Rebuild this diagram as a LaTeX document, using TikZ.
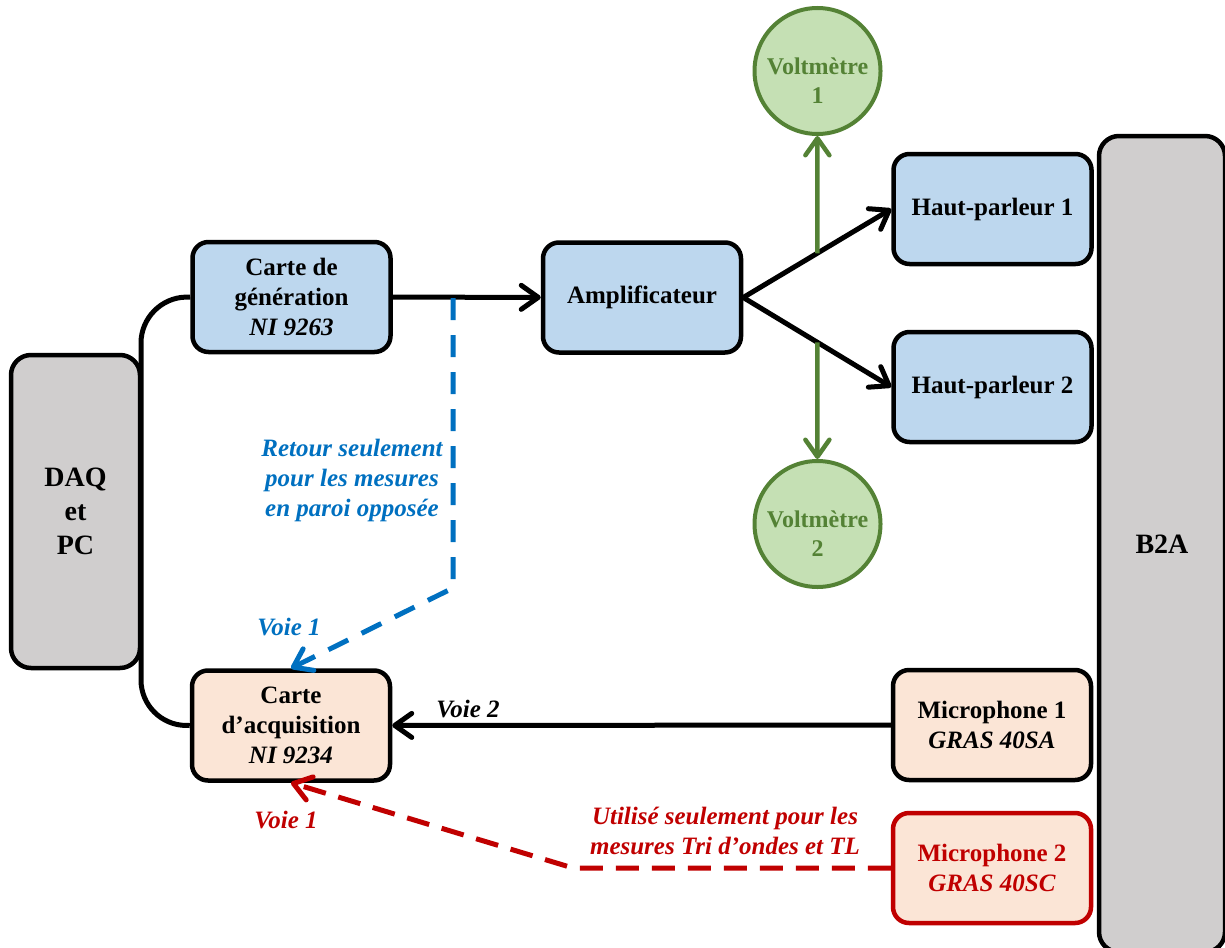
\documentclass[tikz,border=0pt]{standalone}
\usepackage{fontspec}
\setmainfont{Liberation Serif}
\usepackage{xcolor}
\usepackage{tikz}
\usetikzlibrary{arrows.meta,positioning,calc}

\definecolor{boxblue}{HTML}{BDD7EE}
\definecolor{boxpeach}{HTML}{FBE5D6}
\definecolor{boxgray}{HTML}{D0CECE}
\definecolor{voltfill}{HTML}{C5E0B4}
\definecolor{voltgreen}{HTML}{548235}
\definecolor{retblue}{HTML}{0070C0}
\definecolor{micred}{HTML}{C00000}

\begin{document}
\begin{tikzpicture}[x=1pt, y=-1pt,
    >={Straight Barb[length=17pt,width=24pt,round]},
    every node/.style={font=\fontsize{25}{30}\selectfont\bfseries, align=center},
    unit/.style={draw, line width=4.5pt, rounded corners=16pt, minimum width=198pt, minimum height=110pt, inner sep=2pt},
    rack/.style={draw, line width=4.5pt, rounded corners=20pt, fill=boxgray, font=\fontsize{28}{34}\selectfont\bfseries},
    volt/.style={circle, draw=voltgreen, line width=4pt, fill=voltfill, minimum size=126pt, inner sep=0pt},
    volttext/.style={text=voltgreen, font=\fontsize{24}{29}\selectfont\bfseries, yshift=-10pt},
    wire/.style={line width=5pt},
    note/.style={font=\fontsize{25}{30}\selectfont\bfseries\itshape}]
    \clip (0,0) rectangle (1225,947);

    % Racks on both sides
    \node[rack, minimum width=129pt, minimum height=313pt] (daq) at (75.5,511.5) {DAQ\\et\\PC};
    \node[rack, minimum width=126pt, minimum height=816pt] (b2a) at (1162,544) {B2A};

    % Generation chain (top)
    \node[unit, fill=boxblue] (gen) at (291.5,297) {Carte de\\génération\\\textit{NI 9263}};
    \node[unit, fill=boxblue] (amp) at (642,297.5) {Amplificateur};
    \node[unit, fill=boxblue] (hp1) at (992.5,209) {Haut-parleur 1};
    \node[unit, fill=boxblue] (hp2) at (992.5,387) {Haut-parleur 2};
    \node[volt, label={[volttext]center:Voltmètre\\1}] (volt1) at (817.5,71) {};
    \node[volt, label={[volttext]center:Voltmètre\\2}] (volt2) at (817.5,524) {};

    % Acquisition chain (bottom)
    \node[unit, fill=boxpeach] (acq) at (291,725.5) {Carte\\d’acquisition\\\textit{NI 9234}};
    \node[unit, fill=boxpeach] (mic1) at (992,725) {Microphone 1\\\textit{GRAS 40SA}};
    \node[unit, fill=boxpeach, draw=micred, text=micred] (mic2) at (992,868) {Microphone 2\\\textit{GRAS 40SC}};

    % Labels
    \node[note, text=retblue] (retour) at (352,480) {Retour seulement\\pour les mesures\\en paroi opposée};
    \node[note, text=retblue] (voieb) at (289,627) {Voie 1};
    \node[note] (voie2) at (468,709) {Voie 2};
    \node[note, text=micred] (voier) at (286,820) {Voie 1};
    \node[note, text=micred] (tri) at (725,831) {Utilisé seulement pour les\\mesures Tri d’ondes et TL};

    % Bends and taps
    \coordinate (g1) at ($(amp.east)!0.5!(hp1.west)$);
    \coordinate (g2) at ($(amp.east)!0.5!(hp2.west)$);
    \coordinate (tap) at (453,298);
    \coordinate (bend) at (453,588);
    \coordinate (rbend) at (573,868);

    % Black wires
    \draw[wire, rounded corners=45pt] (gen.west) -- (141,298) -- (141,725) -- (acq.west);
    \draw[wire, ->] (gen) -- (amp);
    \draw[wire, ->] (amp.east) -- (hp1.west);
    \draw[wire, ->] (amp.east) -- (hp2.west);
    \draw[wire, ->] (mic1) -- (acq);

    % Voltmeters
    \draw[wire, line width=4.5pt, voltgreen, ->] (g1) -- (volt1);
    \draw[wire, line width=4.5pt, voltgreen, ->] (g2) -- (volt2);

    % Dashed returns
    \draw[wire, retblue, dash pattern=on 22pt off 15pt, ->] (tap) -- (bend) -- (acq.north);
    \draw[wire, micred, dash pattern=on 23pt off 13pt, ->] (mic2.west) -- (rbend) -- (acq.south);
\end{tikzpicture}
\end{document}
